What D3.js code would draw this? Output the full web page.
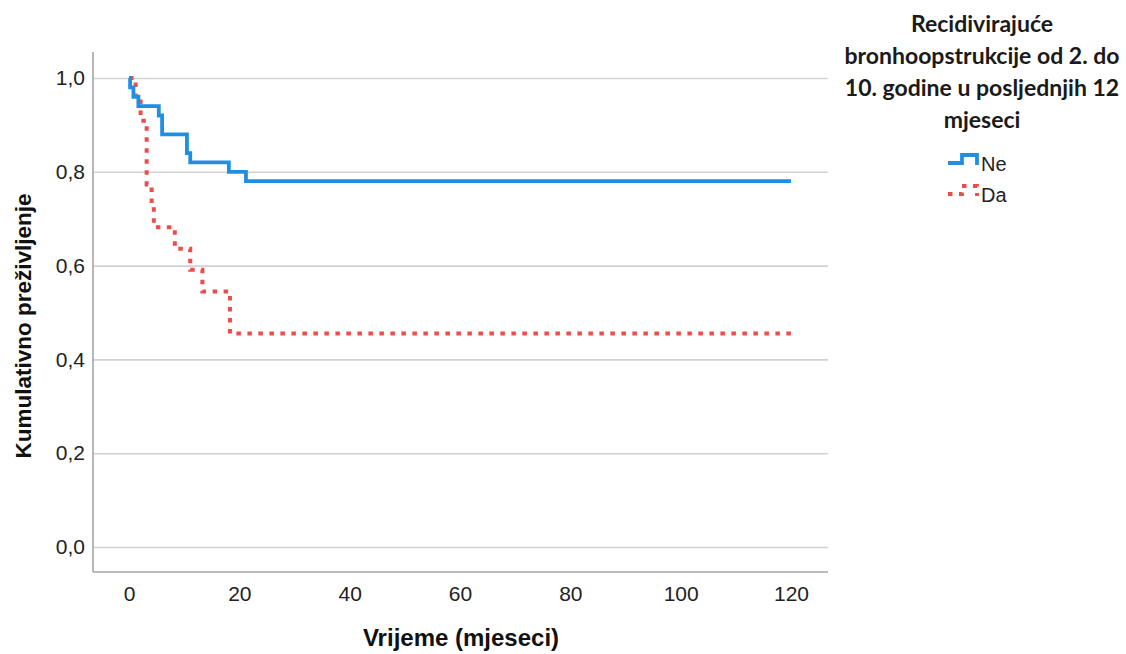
<!DOCTYPE html>
<html>
<head>
<meta charset="utf-8">
<script src="https://cdn.jsdelivr.net/npm/d3@7/dist/d3.min.js"></script>
<style>
  body { margin: 0; background: #fff; }
  .tick text { font-family: "Liberation Sans", Arial, sans-serif; font-size: 21px; fill: #222; }
</style>
</head>
<body>
<svg id="chart" width="1126" height="654"></svg>
<script>
// survival steps (time in months, cumulative survival)
var neTimes  = [0, 0.2, 0.8, 1.7, 5.4, 6.0, 10.5, 11.1, 18.1, 21.2, 120];
var neValues = [1, 0.98, 0.96, 0.94, 0.92, 0.88, 0.84, 0.82, 0.80, 0.78, 0.78];
var daTimes  = [0, 1.2, 2.1, 3.2, 4.1, 4.5, 8.3, 11.1, 13.3, 18.3, 120];
var daValues = [1, 0.955, 0.909, 0.773, 0.727, 0.682, 0.636, 0.591, 0.545, 0.455, 0.455];

var xTicks = [0, 20, 40, 60, 80, 100, 120];
var yTicks = [0, 0.2, 0.4, 0.6, 0.8, 1.0];
var groups = ["Ne", "Da"];
var legendTitle = ["Recidivirajuće", "bronhoopstrukcije od 2. do", "10. godine u posljednjih 12", "mjeseci"];

var svg = d3.select("#chart");

// plot frame
var frame = {left: 93, right: 828, top: 52, bottom: 572};

var x = d3.scaleLinear().domain([0, 120]).range([129, 791]);
var y = d3.scaleLinear().domain([0, 1]).range([547, 78]);

var comma = d3.formatLocale({decimal: ",", thousands: ".", grouping: [3], currency: ["", ""]});

// y axis with gridlines
var gy = svg.append("g")
    .attr("transform", "translate(" + frame.left + ",0)")
    .call(d3.axisLeft(y).tickValues(yTicks).tickFormat(comma.format(".1f"))
      .tickSize(-(frame.right - frame.left)).tickPadding(8));
gy.select(".domain").remove();
gy.selectAll(".tick line").attr("stroke", "#d2d2d2").attr("stroke-width", 1.6);

// x axis, labels only
var gx = svg.append("g")
    .attr("transform", "translate(0," + frame.bottom + ")")
    .call(d3.axisBottom(x).tickValues(xTicks).tickSize(0).tickPadding(14));
gx.select(".domain").remove();

// axis lines
svg.append("line")
    .attr("x1", frame.left).attr("x2", frame.left)
    .attr("y1", frame.top).attr("y2", frame.bottom)
    .attr("stroke", "#a6a6a6").attr("stroke-width", 1.6);
svg.append("line")
    .attr("x1", frame.left).attr("x2", frame.right)
    .attr("y1", frame.bottom).attr("y2", frame.bottom)
    .attr("stroke", "#a6a6a6").attr("stroke-width", 1.6);

// axis titles
svg.append("text")
    .attr("x", 461).attr("y", 646)
    .attr("text-anchor", "middle")
    .style("font-family", "'Liberation Sans', Arial, sans-serif")
    .style("font-weight", "bold").style("font-size", "24px")
    .style("fill", "#111")
    .text("Vrijeme (mjeseci)");

svg.append("text")
    .attr("transform", "translate(31,326) rotate(-90)")
    .attr("text-anchor", "middle")
    .style("font-family", "'Liberation Sans', Arial, sans-serif")
    .style("font-weight", "bold").style("font-size", "22.5px")
    .style("fill", "#111")
    .text("Kumulativno preživljenje");

// survival curves
var line = d3.line()
    .x(function(d) { return x(d.t); })
    .y(function(d) { return y(d.s); })
    .curve(d3.curveStepAfter);

var neData = neTimes.map(function(t, i) { return {t: t, s: neValues[i]}; });
var daData = daTimes.map(function(t, i) { return {t: t, s: daValues[i]}; });

svg.append("path")
    .datum(daData)
    .attr("d", line)
    .attr("fill", "none")
    .attr("stroke", "#ef4b4b")
    .attr("stroke-width", 4)
    .attr("stroke-dasharray", "4.5,6.5");

svg.append("path")
    .datum(neData)
    .attr("d", line)
    .attr("fill", "none")
    .attr("stroke", "#1f8fe3")
    .attr("stroke-width", 3.8);

// legend
var lx = 982;
svg.append("g").selectAll("text")
    .data(legendTitle)
    .enter().append("text")
      .attr("x", lx)
      .attr("y", function(d, i) { return 32 + i * 32; })
      .attr("text-anchor", "middle")
      .style("font-family", "Lato, 'Open Sans', sans-serif")
      .style("font-weight", "bold").style("font-size", "23px")
      .style("fill", "#1a1a1a")
      .text(function(d) { return d; });

var legendColors = {Ne: "#1f8fe3", Da: "#ef4b4b"};
var item = svg.append("g").selectAll("g")
    .data(groups)
    .enter().append("g")
      .attr("transform", function(d, i) { return "translate(948," + (163 + i * 31) + ")"; });

item.append("path")
    .attr("d", "M0,0H14V-8H29V2")
    .attr("fill", "none")
    .attr("stroke", function(d) { return legendColors[d]; })
    .attr("stroke-width", 3.8)
    .attr("stroke-dasharray", function(d) { return d === "Da" ? "4.5,6.5" : null; });

item.append("text")
    .attr("x", 33).attr("y", 8)
    .style("font-family", "'Liberation Sans', Arial, sans-serif")
    .style("font-size", "20px").style("fill", "#222")
    .text(function(d) { return d; });
</script>
</body>
</html>
